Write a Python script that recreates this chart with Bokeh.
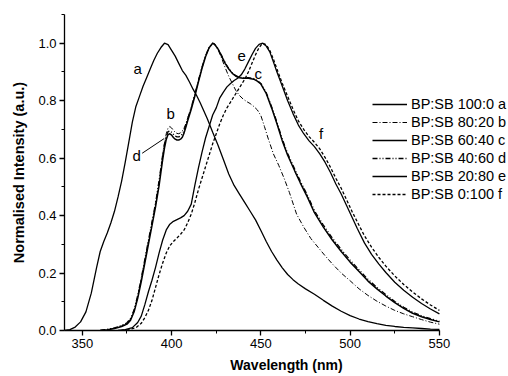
from bokeh.plotting import figure
from bokeh.models import (Legend, LegendItem, SingleIntervalTicker, PrintfTickFormatter,
                          ColumnDataSource)
from bokeh.core.properties import value
from bokeh.embed import file_html
from bokeh.resources import INLINE

# ---------------- data ----------------
wl_a = [340, 343, 346, 349, 352, 355, 358, 360, 362, 364, 366, 368, 370, 372, 374, 376, 378, 380,
        382, 384, 386, 388, 390, 392, 394, 396, 398, 400, 402, 404, 406, 408, 410, 412, 414, 416,
        418, 420, 423, 426, 429, 432, 435, 438, 441, 444, 447, 450, 453, 456, 459, 462, 465, 468,
        471, 475, 480, 485, 490, 495, 500, 505, 510, 515, 520, 525, 530, 535, 540, 545, 550]
int_a = [0.0, 0.003, 0.012, 0.03, 0.065, 0.13, 0.22, 0.275, 0.31, 0.34, 0.375, 0.415, 0.465, 0.52,
         0.585, 0.655, 0.725, 0.78, 0.815, 0.85, 0.88, 0.91, 0.94, 0.965, 0.985, 1.0, 0.995, 0.975,
         0.955, 0.93, 0.905, 0.888, 0.865, 0.84, 0.818, 0.793, 0.765, 0.737, 0.69, 0.645, 0.595,
         0.545, 0.505, 0.475, 0.445, 0.415, 0.385, 0.348, 0.31, 0.275, 0.245, 0.218, 0.195, 0.177,
         0.162, 0.145, 0.126, 0.105, 0.085, 0.067, 0.052, 0.04, 0.031, 0.024, 0.018, 0.014, 0.011,
         0.009, 0.007, 0.005, 0.004]

wl_b = [360, 364, 368, 372, 375, 377, 379, 381, 383, 385, 387, 389, 391, 393, 394, 395, 396, 397,
        398, 399, 400, 401, 402, 403, 404, 405, 406, 407, 408, 409, 411, 413, 415, 417, 419, 421,
        423, 424, 426, 428, 430, 432, 434, 436, 438, 440, 442, 444, 446, 448, 450, 452, 454, 457,
        460, 463, 466, 470, 474, 478, 482, 486, 490, 495, 500, 505, 510, 515, 520, 525, 530, 535,
        540, 545, 550]
int_b = [0.0, 0.003, 0.008, 0.016, 0.025, 0.04, 0.07, 0.12, 0.18, 0.245, 0.31, 0.375, 0.44, 0.52,
         0.565, 0.61, 0.65, 0.685, 0.705, 0.71, 0.705, 0.697, 0.69, 0.686, 0.685, 0.688, 0.695,
         0.705, 0.72, 0.74, 0.775, 0.82, 0.87, 0.915, 0.955, 0.985, 1.0, 0.997, 0.978, 0.948,
         0.915, 0.885, 0.86, 0.835, 0.818, 0.806, 0.797, 0.79, 0.78, 0.768, 0.748, 0.71, 0.67,
         0.615, 0.575, 0.53, 0.48, 0.405, 0.36, 0.32, 0.29, 0.26, 0.232, 0.2, 0.173, 0.145, 0.122,
         0.102, 0.085, 0.07, 0.058, 0.048, 0.038, 0.029, 0.022]

wl_c = [360, 364, 368, 372, 375, 377, 379, 381, 383, 385, 387, 389, 391, 393, 394, 395, 396, 397,
        398, 399, 400, 401, 402, 403, 404, 405, 406, 407, 408, 409, 411, 413, 415, 417, 419, 421,
        423, 424, 426, 428, 430, 432, 434, 436, 438, 440, 443, 446, 448, 450, 453, 456, 459, 462,
        465, 469, 472, 476, 480, 485, 490, 495, 500, 505, 510, 515, 520, 525, 530, 535, 540, 545,
        550]
int_c = [0.0, 0.003, 0.007, 0.014, 0.022, 0.036, 0.065, 0.112, 0.17, 0.235, 0.3, 0.365, 0.43, 0.505,
         0.55, 0.595, 0.635, 0.665, 0.682, 0.685, 0.68, 0.672, 0.666, 0.663, 0.663, 0.666, 0.673,
         0.688, 0.708, 0.73, 0.77, 0.815, 0.865, 0.912, 0.953, 0.984, 1.0, 0.997, 0.98, 0.955, 0.93,
         0.91, 0.895, 0.885, 0.88, 0.878, 0.878, 0.875, 0.868, 0.858, 0.825, 0.775, 0.72, 0.66,
         0.61, 0.555, 0.515, 0.465, 0.41, 0.36, 0.315, 0.275, 0.238, 0.205, 0.172, 0.145, 0.12,
         0.097, 0.077, 0.06, 0.048, 0.038, 0.03]

wl_d = [360, 364, 368, 372, 375, 377, 379, 381, 383, 385, 387, 389, 391, 393, 394, 395, 396, 397,
        398, 399, 400, 401, 402, 403, 404, 405, 406, 407, 408, 409, 411, 413, 415, 417, 419, 421,
        423, 424, 426, 428, 430, 432, 434, 436, 438, 440, 443, 446, 448, 450, 453, 456, 459, 462,
        465, 469, 472, 476, 480, 485, 490, 495, 500, 505, 510, 515, 520, 525, 530, 535, 540, 545,
        550]
int_d = [0.0, 0.004, 0.009, 0.017, 0.027, 0.042, 0.072, 0.122, 0.182, 0.248, 0.313, 0.378, 0.443,
         0.523, 0.567, 0.612, 0.65, 0.677, 0.692, 0.695, 0.69, 0.683, 0.677, 0.674, 0.674, 0.677,
         0.684, 0.697, 0.715, 0.737, 0.777, 0.822, 0.87, 0.916, 0.956, 0.986, 1.0, 0.997, 0.981,
         0.957, 0.932, 0.912, 0.897, 0.887, 0.882, 0.88, 0.88, 0.877, 0.87, 0.86, 0.828, 0.779,
         0.725, 0.666, 0.616, 0.561, 0.521, 0.472, 0.417, 0.367, 0.322, 0.282, 0.245, 0.211, 0.178,
         0.15, 0.125, 0.101, 0.081, 0.064, 0.051, 0.041, 0.032]

wl_e = [370, 374, 378, 381, 383, 385, 387, 389, 391, 393, 395, 397, 399, 401, 403, 405, 407, 409,
        411, 413, 415, 417, 419, 421, 423, 425, 427, 429, 431, 433, 435, 437, 439, 441, 443, 445,
        447, 449, 451, 453, 455, 457, 459, 462, 465, 468, 471, 474, 477, 480, 483, 486, 489, 492,
        495, 498, 501, 504, 508, 512, 516, 520, 525, 530, 535, 540, 545, 550]
int_e = [0.0, 0.003, 0.01, 0.028, 0.05, 0.09, 0.135, 0.175, 0.22, 0.27, 0.315, 0.35, 0.37, 0.38,
         0.386, 0.392, 0.4, 0.415, 0.44, 0.505, 0.565, 0.62, 0.67, 0.71, 0.75, 0.775, 0.81, 0.83,
         0.848, 0.86, 0.87, 0.878, 0.89, 0.91, 0.935, 0.96, 0.982, 0.996, 1.0, 0.99, 0.97, 0.935,
         0.9, 0.85, 0.8, 0.755, 0.715, 0.685, 0.66, 0.64, 0.615, 0.585, 0.55, 0.51, 0.475, 0.435,
         0.395, 0.355, 0.305, 0.265, 0.232, 0.202, 0.168, 0.14, 0.116, 0.094, 0.075, 0.058]

wl_f = [372, 376, 380, 383, 385, 387, 389, 391, 393, 395, 397, 399, 401, 403, 405, 407, 409, 411,
        413, 415, 417, 419, 421, 423, 425, 427, 429, 431, 433, 435, 437, 439, 441, 443, 445, 447,
        449, 451, 453, 455, 457, 459, 462, 465, 468, 471, 474, 477, 480, 483, 486, 489, 492, 495,
        498, 501, 504, 508, 512, 516, 520, 525, 530, 535, 540, 545, 550]
int_f = [0.0, 0.003, 0.01, 0.025, 0.045, 0.07, 0.105, 0.15, 0.195, 0.235, 0.27, 0.295, 0.31, 0.322,
         0.335, 0.35, 0.375, 0.405, 0.445, 0.49, 0.53, 0.57, 0.61, 0.65, 0.685, 0.72, 0.75, 0.775,
         0.795, 0.815, 0.835, 0.855, 0.875, 0.9, 0.93, 0.96, 0.985, 1.0, 0.995, 0.975, 0.945, 0.91,
         0.86, 0.815, 0.77, 0.73, 0.7, 0.675, 0.655, 0.632, 0.602, 0.568, 0.53, 0.495, 0.455, 0.415,
         0.378, 0.33, 0.29, 0.255, 0.224, 0.19, 0.16, 0.134, 0.11, 0.089, 0.07]

series_names = ["BP:SB 100:0 a", "BP:SB 80:20 b", "BP:SB 60:40 c",
                "BP:SB 40:60 d", "BP:SB 20:80 e", "BP:SB 0:100 f"]
curve_letters = ["a", "b", "c", "d", "e", "f"]
letter_x = [381.0, 399.5, 448.5, 380.4, 439.2, 483.7]
letter_y = [0.913, 0.756, 0.896, 0.61, 0.955, 0.686]
pointer_x0, pointer_y0, pointer_x1, pointer_y1 = 383.5, 0.617, 395.8, 0.668

x_axis_start, x_axis_end = 340, 550
x_ticks_interval = 50
y_ticks_interval = 0.2

# ---------------- figure ----------------
FONT = "Liberation Sans"
# the frame runs to the right edge so the legend is not clipped; the axis itself stops at 550
p = figure(width=508, height=376, x_range=(340, 588.7), y_range=(0, 1.1),
           output_backend="svg", toolbar_location=None,
           min_border_left=64, min_border_right=0, min_border_top=14, min_border_bottom=46)
p.outline_line_color = None
p.xgrid.visible = False
p.ygrid.visible = False
p.background_fill_color = "white"
p.border_fill_color = "white"

styles = [
    dict(line_dash="solid", line_width=1.3),
    dict(line_dash="5 2 1 2", line_width=1.0),
    dict(line_dash="solid", line_width=1.5),
    dict(line_dash="5 2 1 2 1 2", line_width=1.3),
    dict(line_dash="solid", line_width=1.3),
    dict(line_dash="3 2", line_width=1.3),
]
data = [(wl_a, int_a), (wl_b, int_b), (wl_c, int_c), (wl_d, int_d), (wl_e, int_e), (wl_f, int_f)]
renderers = []
for (xs, ys), st in zip(data, styles):
    r = p.line(xs, ys, line_color="black", **st)
    renderers.append(r)

# curve letters
src = ColumnDataSource(dict(x=letter_x, y=letter_y, t=curve_letters))
p.text(x="x", y="y", text="t", source=src, text_font=value(FONT), text_font_size="15px",
       text_align="center", text_baseline="middle", text_color="black")
p.segment(x0=[pointer_x0], y0=[pointer_y0], x1=[pointer_x1], y1=[pointer_y1],
          line_color="black", line_width=1)

# axes
for ax in (p.xaxis[0], p.yaxis[0]):
    ax.axis_line_color = "black"
    ax.axis_line_width = 1.3
    ax.major_tick_line_width = 1.3
    ax.minor_tick_line_width = 1
    ax.major_tick_in = 0
    ax.major_tick_out = 5
    ax.minor_tick_in = 0
    ax.minor_tick_out = 3
    ax.major_label_text_font = FONT
    ax.major_label_text_font_size = "13px"
    ax.major_label_text_color = "black"
    ax.axis_label_text_font = FONT
    ax.axis_label_text_font_style = "bold"
    ax.axis_label_text_color = "black"

p.xaxis.bounds = (x_axis_start, x_axis_end)
p.xaxis.ticker = SingleIntervalTicker(interval=x_ticks_interval, num_minor_ticks=2)
p.yaxis.ticker = SingleIntervalTicker(interval=y_ticks_interval, num_minor_ticks=2)
p.yaxis.formatter = PrintfTickFormatter(format="%.1f")
p.xaxis.axis_label = "Wavelength (nm)"
p.yaxis.axis_label = "Normalised Intensity (a.u.)"
p.xaxis.axis_label_text_font_size = "14px"
p.yaxis.axis_label_text_font_size = "14.5px"
p.xaxis.major_label_standoff = 3
p.yaxis.major_label_standoff = 3
p.xaxis.axis_label_standoff = 6
p.yaxis.axis_label_standoff = 8

legend = Legend(items=[LegendItem(label=n, renderers=[r]) for n, r in zip(series_names, renderers)],
                location=(308, 127), orientation="vertical",
                glyph_width=35, glyph_height=18, label_height=18, spacing=0,
                padding=0, margin=0, label_standoff=4,
                label_text_font=FONT, label_text_font_size="14.5px", label_text_color="black",
                border_line_color=None, background_fill_alpha=0)
p.add_layout(legend)

open("out.html", "w").write(file_html(p, INLINE))
